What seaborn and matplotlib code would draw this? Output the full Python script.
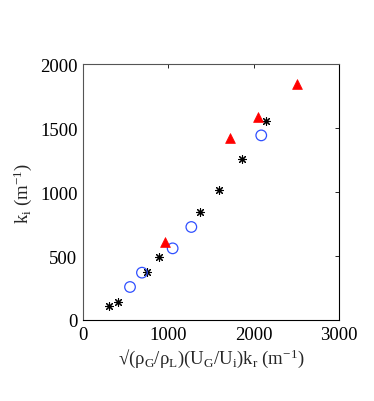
import matplotlib
matplotlib.use('Agg')
import matplotlib.pyplot as plt
import seaborn as sns
import pandas as pd

# data
star_x = [308, 410, 746, 895, 1367, 1590, 1867, 2145]
star_y = [107, 138, 377, 492, 841, 1018, 1258, 1557]
circ_x = [551, 691, 1051, 1270, 2090]
circ_y = [258, 370, 560, 727, 1443]
tri_x = [957, 1727, 2055, 2508]
tri_y = [609, 1422, 1583, 1846]

sns.set_style('white')
plt.rcParams['font.family'] = ['Liberation Serif', 'DejaVu Serif']
plt.rcParams['mathtext.fontset'] = 'custom'
plt.rcParams['mathtext.rm'] = 'Liberation Serif'
plt.rcParams['mathtext.it'] = 'Liberation Serif'

fig = plt.figure(figsize=(3.74, 4.02), dpi=100)
ax = fig.add_axes([0.222, 0.2015, 0.684, 0.6365])

sns.scatterplot(x=star_x, y=star_y, ax=ax, marker=(8, 2, 0), s=32,
                color='black', linewidth=0.8)
sns.scatterplot(x=circ_x, y=circ_y, ax=ax, marker='o', s=58,
                facecolor='none', edgecolor='#3050ff', linewidth=0.9)
sns.scatterplot(x=tri_x, y=tri_y, ax=ax, marker='^', s=50,
                color='red', edgecolor='red', linewidth=0.5)

ax.set_xlim(0, 3000)
ax.set_ylim(0, 2000)
ax.set_xticks([0, 1000, 2000, 3000])
ax.set_yticks([0, 500, 1000, 1500, 2000])
ax.tick_params(direction='in', length=3, labelsize=13.5, top=True, right=True,
               colors='black', width=0.6, pad=4)
for s in ax.spines.values():
    s.set_visible(True)
    s.set_linewidth(0.8)
    s.set_color('#555555')
ax.spines['bottom'].set_color('black')
ax.spines['right'].set_color('black')

ax.set_xlabel('√' + r'$\mathregular{(\rho_G/\rho_L)(U_G/U_i)k_r\ (m^{-1})}$', fontsize=13.5, labelpad=3)
ax.set_ylabel(r'$\mathregular{k_i\ (m^{-1})}$', fontsize=13.5)

fig.savefig('out.png', dpi=100)
